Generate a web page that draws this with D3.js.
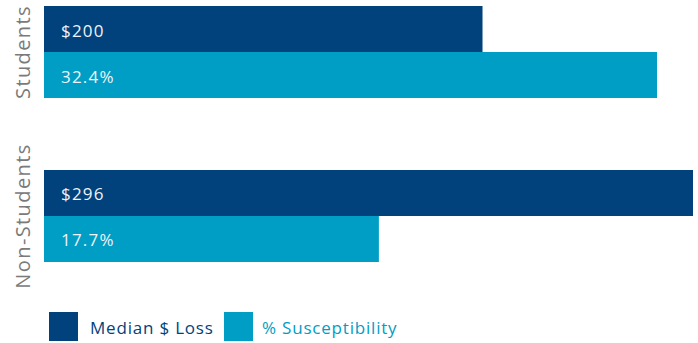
<!DOCTYPE html>
<html>
<head>
<meta charset="utf-8">
<script src="https://cdn.jsdelivr.net/npm/d3@7"></script>
<style>
  body { margin: 0; background: #fff; }
  text { font-family: "Open Sans", Lato, sans-serif; }
</style>
</head>
<body>
<div id="chart"></div>
<script>
// chart data
const categories = ['Students', 'Non-Students'];
const series = ['Median $ Loss', '% Susceptibility'];
const medianLoss = [200, 296];
const susceptibility = [32.4, 17.7];
const lossLabels = ['$200', '$296'];
const pctLabels = ['32.4%', '17.7%'];

const width = 698;
const height = 343;
const colors = ['#02427c', '#009dc5'];

const svg = d3.select('#chart')
  .append('svg')
    .attr('width', width)
    .attr('height', height);

// one band per category, split into two bars
const y = d3.scaleBand()
  .domain(categories)
  .range([6, 262])
  .paddingInner(0.439);

const ySub = d3.scaleBand()
  .domain(series)
  .range([0, y.bandwidth()]);

// each series has its own length scale (the two measures are not comparable)
const left = 44;
const xLoss = d3.scaleLinear()
  .domain([0, d3.max(medianLoss)])
  .range([left, 693]);
const xPct = d3.scaleLinear()
  .domain([0, 32.4])
  .range([left, 657]);

const rows = categories.map((c, i) => ({
  cat: c,
  bars: [
    {s: series[0], v: medianLoss[i], label: lossLabels[i], x: xLoss},
    {s: series[1], v: susceptibility[i], label: pctLabels[i], x: xPct}
  ]
}));

const groups = svg.selectAll('g.cat')
  .data(rows)
  .enter()
  .append('g')
    .attr('class', 'cat')
    .attr('transform', d => `translate(0,${y(d.cat)})`);

groups.selectAll('rect')
  .data(d => d.bars)
  .enter()
  .append('rect')
    .attr('x', left)
    .attr('y', d => ySub(d.s))
    .attr('width', d => d.x(d.v) - left)
    .attr('height', ySub.bandwidth())
    .attr('fill', (d, i) => colors[i]);

groups.selectAll('text.val')
  .data(d => d.bars)
  .enter()
  .append('text')
    .attr('class', 'val')
    .attr('x', left + 17)
    .attr('y', d => ySub(d.s) + ySub.bandwidth() / 2 + 1)
    .attr('dominant-baseline', 'central')
    .attr('font-size', 17)
    .attr('letter-spacing', 1.2)
    .attr('fill', '#eef3f8')
    .text(d => d.label);

// rotated category labels
svg.selectAll('text.cat')
  .data(categories)
  .enter()
  .append('text')
    .attr('class', 'cat')
    .attr('transform', d => `translate(30,${y(d) + y.bandwidth() / 2}) rotate(-90)`)
    .attr('text-anchor', 'middle')
    .attr('font-size', 20)
    .attr('letter-spacing', 1.4)
    .attr('fill', '#7a7a7a')
    .text(d => d);

// legend
const legendX = [49, 224];
const legend = svg.selectAll('g.legend')
  .data(series)
  .enter()
  .append('g')
    .attr('class', 'legend')
    .attr('transform', (d, i) => `translate(${legendX[i]},312)`);

legend.append('rect')
  .attr('width', 29)
  .attr('height', 29)
  .attr('fill', (d, i) => colors[i]);

legend.append('text')
  .attr('x', (d, i) => i === 0 ? 41 : 38)
  .attr('y', 22)
  .attr('font-size', 17)
  .attr('letter-spacing', 0.8)
  .attr('fill', (d, i) => colors[i])
  .text(d => d);
</script>
</body>
</html>
